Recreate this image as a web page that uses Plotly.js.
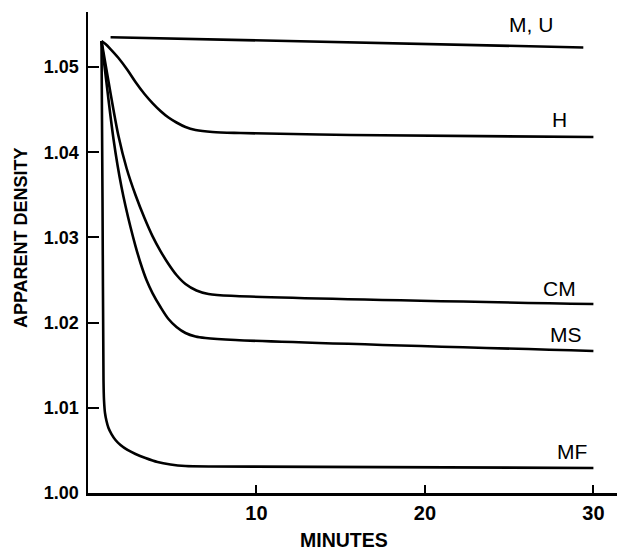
<!DOCTYPE html>
<html>
<head>
<meta charset="utf-8">
<script src="https://cdn.plot.ly/plotly-3.0.1.min.js"></script>
<style>html,body{margin:0;padding:0;background:#fff;}#chart{width:617px;height:550px;}</style>
</head>
<body>
<div id="chart"></div>
<script>
// Series (minutes vs apparent density)
const muX = [1.34, 3.7, 15.5, 29.4];
const muY = [1.0535, 1.0534, 1.0529, 1.0523];

const hX = [0.801, 1.039, 1.335, 1.810, 2.344, 2.819, 3.353, 3.828, 4.303, 4.777, 5.252, 5.786, 6.380, 7.389, 9.050, 15.579, 30.0];
const hY = [1.05305, 1.05270, 1.05211, 1.05106, 1.04965, 1.04824, 1.04683, 1.04577, 1.04484, 1.04407, 1.04349, 1.04296, 1.04261, 1.04237, 1.04225, 1.04202, 1.04178];

const cmX = [0.801, 1.335, 1.810, 2.285, 2.819, 3.353, 3.828, 4.303, 4.777, 5.252, 5.786, 6.439, 7.151, 8.754, 30.0];
const cmY = [1.05305, 1.04695, 1.04190, 1.03815, 1.03498, 1.03228, 1.03016, 1.02840, 1.02688, 1.02559, 1.02453, 1.02377, 1.02336, 1.02312, 1.02218];

const msX = [0.801, 0.979, 1.157, 1.335, 1.513, 1.751, 1.988, 2.226, 2.522, 2.819, 3.116, 3.472, 3.828, 4.303, 4.777, 5.252, 5.786, 6.380, 6.973, 8.754, 30.0];
const msY = [1.05305, 1.05012, 1.04718, 1.04425, 1.04155, 1.03850, 1.03592, 1.03369, 1.03122, 1.02899, 1.02700, 1.02500, 1.02347, 1.02183, 1.02042, 1.01948, 1.01878, 1.01837, 1.01819, 1.01796, 1.01667];

const mfX = [0.801, 0.861, 0.920, 0.950, 1.009, 1.098, 1.217, 1.395, 1.632, 1.929, 2.344, 2.819, 3.412, 4.125, 4.896, 5.786, 7.270, 30.0];
const mfY = [1.05305, 1.03439, 1.01326, 1.01092, 1.00939, 1.00845, 1.00763, 1.00692, 1.00622, 1.00563, 1.00505, 1.00458, 1.00411, 1.00364, 1.00335, 1.00317, 1.00311, 1.00294];

const seriesNames = ["M, U", "H", "CM", "MS", "MF"];
const labelX = [26.3, 28.0, 28.0, 28.4, 28.7];
const labelY = [1.05505, 1.0439, 1.02406, 1.01866, 1.00493];

const xTickVals = [10, 20, 30];
const xTickText = ["10", "20", "30"];
const yTickVals = [1.00, 1.01, 1.02, 1.03, 1.04, 1.05];
const yTickText = ["1.00", "1.01", "1.02", "1.03", "1.04", "1.05"];

const xTitle = "MINUTES";
const yTitle = "APPARENT DENSITY";

const FONT = "Liberation Sans, Arial, Helvetica, sans-serif";
const smooth = [0, 0.9, 0.9, 0.9, 0.6];

const data = [
  [muX, muY], [hX, hY], [cmX, cmY], [msX, msY], [mfX, mfY]
].map((s, i) => ({
  type: "scatter", mode: "lines", x: s[0], y: s[1], name: seriesNames[i],
  line: i === 0 ? {color: "#000", width: 2.6} : {color: "#000", width: 2.6, shape: "spline", smoothing: smooth[i]},
  hoverinfo: "skip"
}));

const annotations = seriesNames.map((n, i) => ({
  x: labelX[i], y: labelY[i], xref: "x", yref: "y", text: n, showarrow: false,
  font: {family: FONT, size: 21, color: "#000", weight: 500}, xanchor: "center", yanchor: "middle"
}));
annotations.push({
  x: 0.484, y: -0.0977, xref: "paper", yref: "paper", text: xTitle, showarrow: false,
  font: {family: FONT, size: 19.5, color: "#000", weight: "bold"}, xanchor: "center", yanchor: "middle"
});
annotations.push({
  x: -0.1267, y: 0.532, xref: "paper", yref: "paper", text: yTitle, showarrow: false, textangle: -90,
  font: {family: FONT, size: 18, color: "#000", weight: "bold"}, xanchor: "center", yanchor: "middle"
});

const layout = {
  width: 617, height: 550,
  margin: {l: 88, r: 0, t: 12, b: 57},
  paper_bgcolor: "#fff", plot_bgcolor: "#fff",
  showlegend: false,
  xaxis: {
    range: [0, 31.4], showgrid: false, zeroline: false,
    showline: true, linecolor: "#000", linewidth: 2.5,
    ticks: "inside", ticklen: 8, tickwidth: 2, tickcolor: "#000",
    tickvals: xTickVals, ticktext: xTickText,
    tickfont: {family: FONT, size: 20, color: "#000", weight: "bold"}
  },
  yaxis: {
    range: [1.0, 1.05646], showgrid: false, zeroline: false,
    showline: true, linecolor: "#000", linewidth: 2.5,
    ticks: "inside", ticklen: 11, tickwidth: 2, tickcolor: "#000",
    tickvals: yTickVals, ticktext: yTickText,
    tickfont: {family: FONT, size: 18, color: "#000", weight: "bold"},
    ticklabelstandoff: 3
  },
  annotations: annotations
};

Plotly.newPlot("chart", data, layout, {displayModeBar: false, staticPlot: true});
</script>
</body>
</html>
